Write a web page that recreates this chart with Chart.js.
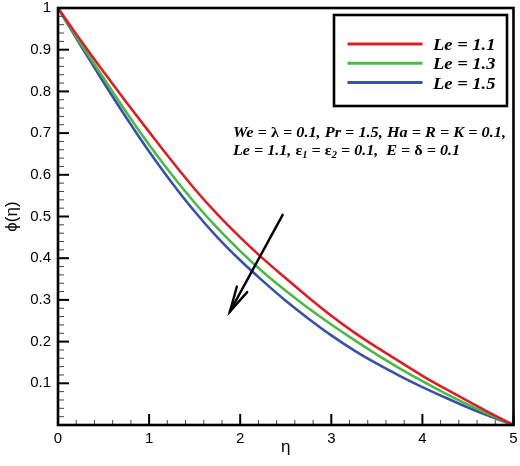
<!DOCTYPE html>
<html><head><meta charset="utf-8">
<script src="https://cdn.jsdelivr.net/npm/chart.js@4.4.0/dist/chart.umd.min.js"></script>
<style>html,body{margin:0;padding:0;background:#fff}#wrap{width:520px;height:466px}</style>
</head><body><div id="wrap"><canvas id="c" width="520" height="466"></canvas></div>
<script>
// ---- data ----
const eta = [0,0.25,0.5,0.75,1,1.25,1.5,1.75,2,2.25,2.5,2.75,3,3.25,3.5,3.75,4,4.25,4.5,4.75,5];
const seriesLabels = ['Le = 1.1','Le = 1.3','Le = 1.5'];
const phiLe11 = [1,0.922,0.847,0.774,0.703,0.633,0.566,0.505,0.450,0.399,0.352,0.306,0.262,0.222,0.186,0.152,0.118,0.087,0.057,0.028,0];
const phiLe13 = [1,0.915,0.832,0.750,0.672,0.600,0.533,0.472,0.417,0.367,0.322,0.280,0.241,0.204,0.169,0.136,0.105,0.076,0.049,0.024,0];
const phiLe15 = [1,0.910,0.822,0.737,0.656,0.581,0.512,0.450,0.395,0.345,0.298,0.255,0.215,0.179,0.147,0.118,0.091,0.066,0.042,0.020,0];
const xTickValues = [0,1,2,3,4,5];
const yTickValues = [0.1,0.2,0.3,0.4,0.5,0.6,0.7,0.8,0.9,1];
const arrowFrom = {x:2.466, y:0.504};
const arrowTo = {x:1.887, y:0.272};

const colors = ['#dc1f26','#4cb848','#3953a4'];
const allSeries = [phiLe11, phiLe13, phiLe15];

const datasets = allSeries.map((s,i)=>({
  label: seriesLabels[i],
  data: eta.map((e,j)=>({x:e, y:s[j]})),
  borderColor: colors[i],
  borderWidth: 2.6,
  pointRadius: 0,
  fill: false,
  cubicInterpolationMode: 'monotone'
}));

const overlay = {
  id: 'overlay',
  afterDatasetsDraw(chart){
    const {ctx, chartArea:a, scales:{x,y}} = chart;
    ctx.save();
    ctx.lineCap = 'butt';
    for (let i=0;i<=25;i++){
      const v = i*0.2, major = i%5===0;
      const px = x.getPixelForValue(v);
      ctx.strokeStyle = major ? '#000' : '#444';
      ctx.lineWidth = major ? 2 : 1;
      ctx.beginPath(); ctx.moveTo(px, a.bottom); ctx.lineTo(px, a.bottom-(major?11:5)); ctx.stroke();
    }
    for (let i=0;i<=50;i++){
      const v = i*0.02, major = i%5===0;
      const py = y.getPixelForValue(v);
      ctx.strokeStyle = major ? '#000' : '#444';
      ctx.lineWidth = major ? 2 : 1;
      ctx.beginPath(); ctx.moveTo(a.left, py); ctx.lineTo(a.left+(major?11:6), py); ctx.stroke();
    }
    ctx.strokeStyle = '#000';
    ctx.lineWidth = 2.6;
    ctx.strokeRect(a.left, a.top, a.right-a.left, a.bottom-a.top);

    // arrow
    const x0 = x.getPixelForValue(arrowFrom.x), y0 = y.getPixelForValue(arrowFrom.y);
    const x1 = x.getPixelForValue(arrowTo.x), y1 = y.getPixelForValue(arrowTo.y);
    ctx.lineWidth = 2.4;
    ctx.lineCap = 'round';
    ctx.beginPath(); ctx.moveTo(x0,y0); ctx.lineTo(x1,y1); ctx.stroke();
    const ang = Math.atan2(y0-y1, x0-x1), L = 26, h = 13*Math.PI/180;
    ctx.beginPath();
    ctx.moveTo(x1 + L*Math.cos(ang+h), y1 + L*Math.sin(ang+h));
    ctx.lineTo(x1, y1);
    ctx.lineTo(x1 + L*Math.cos(ang-h), y1 + L*Math.sin(ang-h));
    ctx.stroke();
    ctx.lineCap = 'butt';

    function fitText(t, font, tx, ty, width){
      ctx.font = font;
      const w = ctx.measureText(t).width;
      ctx.save();
      ctx.translate(tx, ty);
      ctx.scale(width / w, 1);
      ctx.fillText(t, 0, 0);
      ctx.restore();
    }

    // legend box
    const bx = a.left + 276, by = a.top + 7, bw = 173, bh = 91;
    ctx.strokeStyle = '#000';
    ctx.lineWidth = 2.6;
    ctx.strokeRect(bx, by, bw, bh);
    chart.data.datasets.forEach((d,i)=>{
      const ry = by + 29 + i*19.3;
      ctx.strokeStyle = d.borderColor;
      ctx.lineWidth = 3;
      ctx.beginPath(); ctx.moveTo(bx+13.5, ry); ctx.lineTo(bx+88.5, ry); ctx.stroke();
      ctx.fillStyle = '#000';
      ctx.textBaseline = 'alphabetic';
      ctx.textAlign = 'left';
      fitText(d.label, 'italic bold 16px "Liberation Serif"', bx+99, ry+6, 62.5);
    });

    // annotation
    const segs1 = [['We = ','b'],['λ','g'],[' = 0.1, Pr = 1.5, Ha = R = K = 0.1,','b']];
    const segs2 = [['Le = 1.1, ','b'],['ε','g'],['1','s'],[' = ','b'],['ε','g'],['2','s'],[' = 0.1,  E = ','b'],['δ','g'],[' = 0.1','b']];
    const fonts = {b:'italic bold 14.5px "Liberation Serif"', g:'bold 14.5px "Liberation Serif"', s:'italic bold 9.5px "Liberation Serif"'};
    function drawSegs(segs, sx, sy, width){
      let total = 0;
      for (const [t,f] of segs){ ctx.font = fonts[f]; total += ctx.measureText(t).width; }
      const k = width / total;
      ctx.save();
      ctx.translate(sx, sy);
      ctx.scale(k, 1);
      let cx = 0;
      ctx.textBaseline = 'alphabetic';
      ctx.fillStyle = '#000';
      for (const [t,f] of segs){
        ctx.font = fonts[f];
        ctx.fillText(t, cx, f==='s' ? 3 : 0);
        cx += ctx.measureText(t).width;
      }
      ctx.restore();
    }
    drawSegs(segs1, a.left+175, a.top+128.5, 273);
    drawSegs(segs2, a.left+175, a.top+147, 227);
    ctx.restore();
  }
};

new Chart(document.getElementById('c'), {
  type: 'line',
  data: { datasets },
  options: {
    responsive: false,
    animation: false,
    layout: { padding: { top: 8, right: 6.5, left: 0, bottom: 0 } },
    plugins: { legend: { display: false }, tooltip: { enabled: false } },
    scales: {
      x: {
        type: 'linear', min: 0, max: 5,
        afterBuildTicks: s => { s.ticks = xTickValues.map(v=>({value:v})); },
        afterFit: s => { s.height = 41; s.paddingLeft = 0; s.paddingRight = 0; },
        grid: { display: false, drawTicks: false, tickLength: 0 },
        border: { display: false },
        ticks: { color: '#000', font: { family: '"Liberation Sans"', size: 15 }, padding: 5, maxRotation: 0,
          callback: v => String(v) },
        title: { display: true, text: 'η', color: '#000', font: { family: '"Liberation Sans"', size: 17 }, padding: { top: 0, bottom: 8 } }
      },
      y: {
        type: 'linear', min: 0, max: 1,
        afterBuildTicks: s => { s.ticks = yTickValues.map(v=>({value:v})); },
        afterFit: s => { s.width = 58; s.paddingTop = 0; s.paddingBottom = 0; },
        grid: { display: false, drawTicks: false, tickLength: 0 },
        border: { display: false },
        ticks: { color: '#000', font: { family: '"Liberation Sans"', size: 15 }, padding: 7,
          callback: v => String(Math.round(v*10)/10) },
        title: { display: true, text: 'ϕ(η)', color: '#000', font: { family: '"Liberation Sans"', size: 17 }, padding: { top: 2, bottom: 0 } }
      }
    }
  },
  plugins: [overlay]
});
</script>
</body></html>
